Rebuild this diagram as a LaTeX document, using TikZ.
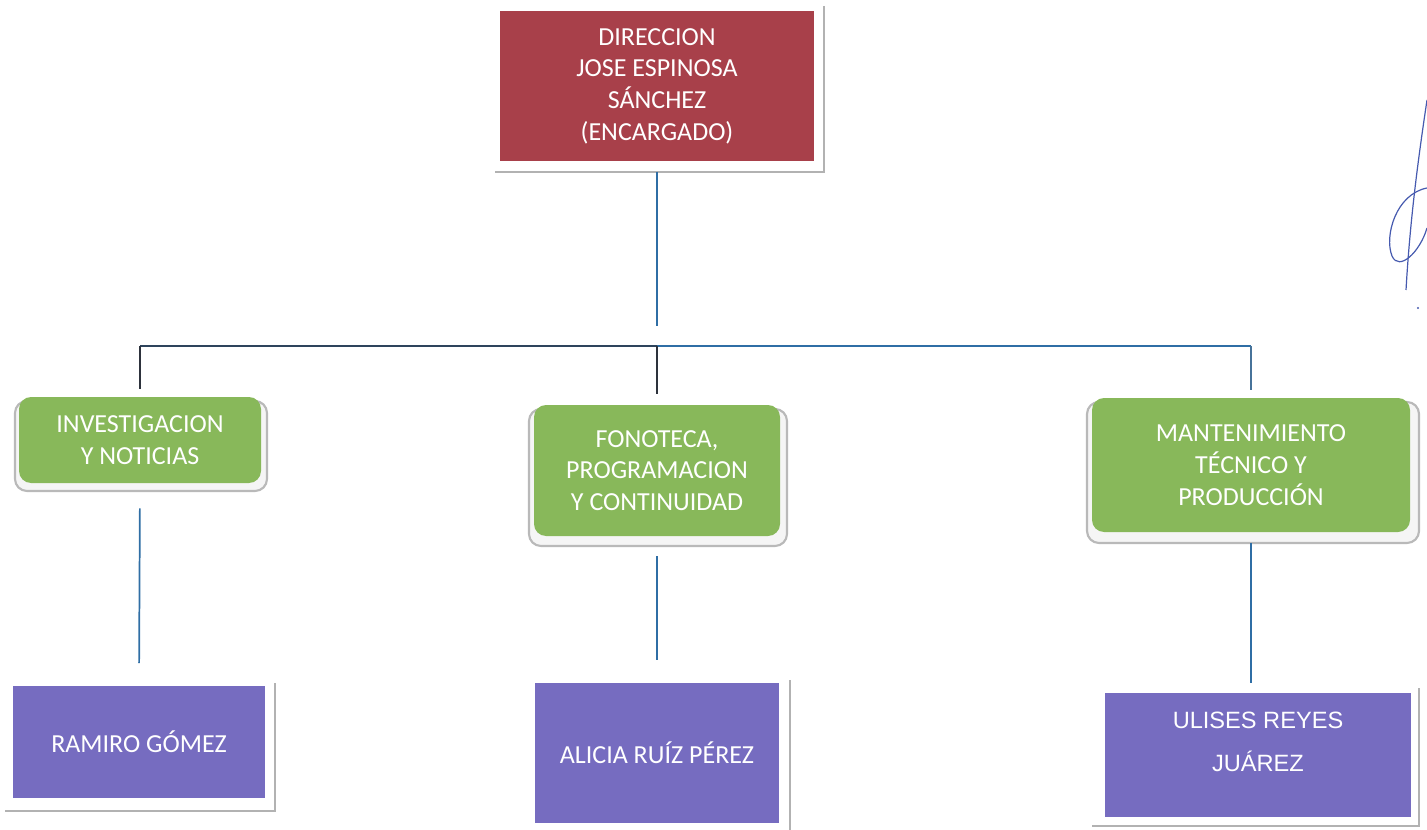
\documentclass[tikz,border=0pt]{standalone}
\usepackage{fontspec}
\setmainfont{Carlito}
\newfontfamily\arialf{Liberation Sans}
\definecolor{dirred}{RGB}{168,64,74}
\definecolor{grn}{RGB}{136,184,90}
\definecolor{prp}{RGB}{118,108,192}
\definecolor{lnblue}{RGB}{47,110,165}
\definecolor{lndark}{RGB}{45,50,60}
\definecolor{sigblue}{RGB}{70,90,175}
\begin{document}
\begin{tikzpicture}[x=0.75pt,y=-0.75pt,
  txt/.style={text=white,font=\fontsize{19.5}{23.8}\selectfont,align=center,inner sep=0pt},
  redbox/.style={txt,fill=dirred,draw=none},
  grnbox/.style={txt,fill=grn,draw=none,rounded corners=9pt},
  prpbox/.style={txt,fill=prp,draw=none},
  gshadow/.style={fill=gray!8,draw=gray!55,line width=1.6pt,rounded corners=9pt},
  rshadow/.style={draw=gray!60,line width=2pt},
  blueln/.style={draw=lnblue,line width=1.3pt},
  darkln/.style={draw=lndark,line width=1.3pt},
  sig/.style={draw=sigblue,line width=0.9pt}
]
\useasboundingbox (0,0) rectangle (1427,830);

% top box
\draw[rshadow] (824,6) -- (824,172) -- (495,172);
\node[redbox,minimum width=235.5pt,minimum height=112.5pt] (top) at (657,86)
  {DIRECCION\\JOSE ESPINOSA\\SÁNCHEZ\\(ENCARGADO)};

% green boxes
\draw[gshadow] (15,401) rectangle (267,491);
\node[grnbox,minimum width=181.5pt,minimum height=64.5pt] (g1) at (140,440)
  {INVESTIGACION\\Y NOTICIAS};
\draw[gshadow] (529,409) rectangle (787,546);
\node[grnbox,minimum width=184.5pt,minimum height=98.25pt] (g2) at (657,470.5)
  {FONOTECA,\\PROGRAMACION\\Y CONTINUIDAD};
\draw[gshadow] (1087,402) rectangle (1419,543);
\node[grnbox,minimum width=238.5pt,minimum height=100.5pt] (g3) at (1251,465)
  {MANTENIMIENTO\\TÉCNICO Y\\PRODUCCIÓN};

% purple boxes
\draw[rshadow] (275,683) -- (275,811) -- (5,811);
\node[prpbox,minimum width=189pt,minimum height=84pt] (p1) at (139,742) {RAMIRO GÓMEZ};
\draw[rshadow] (790,680) -- (790,830);
\node[prpbox,minimum width=183pt,minimum height=105pt] (p2) at (657,753) {ALICIA RUÍZ PÉREZ};
\draw[rshadow] (1419,688) -- (1419,826) -- (1092,826);
\node[prpbox,minimum width=229.5pt,minimum height=93pt,font=\arialf\fontsize{17.7}{32}\selectfont] (p3) at (1258,755)
  {\raisebox{20pt}{\shortstack{ULISES REYES\\[14pt]JUÁREZ}}};

% connectors
\coordinate (busy) at (0,346);
\coordinate (topend) at (657,326);
\coordinate (bL) at (g1.north |- busy);
\coordinate (bM) at (g2.north |- busy);
\coordinate (bR) at (g3.north |- busy);
\draw[blueln,shorten <=8pt] (top.south) -- (topend);
\draw[draw=lndark!70!lnblue,line width=1.3pt] (bL) -- (bM);
\draw[blueln] (bM) -- (bR);
\draw[darkln,shorten >=6pt] (bL) -- (g1.north);
\draw[darkln,shorten >=8pt] (bM) -- (g2.north);
\draw[draw=lnblue!70!gray,line width=1.3pt,shorten >=6pt] (bR) -- (g3.north);
\draw[blueln,shorten <=18.75pt,shorten >=17pt] (g1.south) -- (p1.north);
\draw[blueln,shorten <=15pt,shorten >=17pt] (g2.south) -- (p2.north);
\draw[draw=lnblue,line width=2pt,shorten <=8pt,shorten >=7.5pt] (g3.south) -- (g3.south |- p3.north);

% signature mark
\draw[sig] (1427,100) .. controls (1418,160) and (1410,220) .. (1406,290);
\draw[sig] (1427,188) .. controls (1396,194) and (1384,236) .. (1392,256)
  .. controls (1399,272) and (1420,252) .. (1427,228);
\fill[sigblue] (1418,308) circle (1.2);
\end{tikzpicture}
\end{document}
